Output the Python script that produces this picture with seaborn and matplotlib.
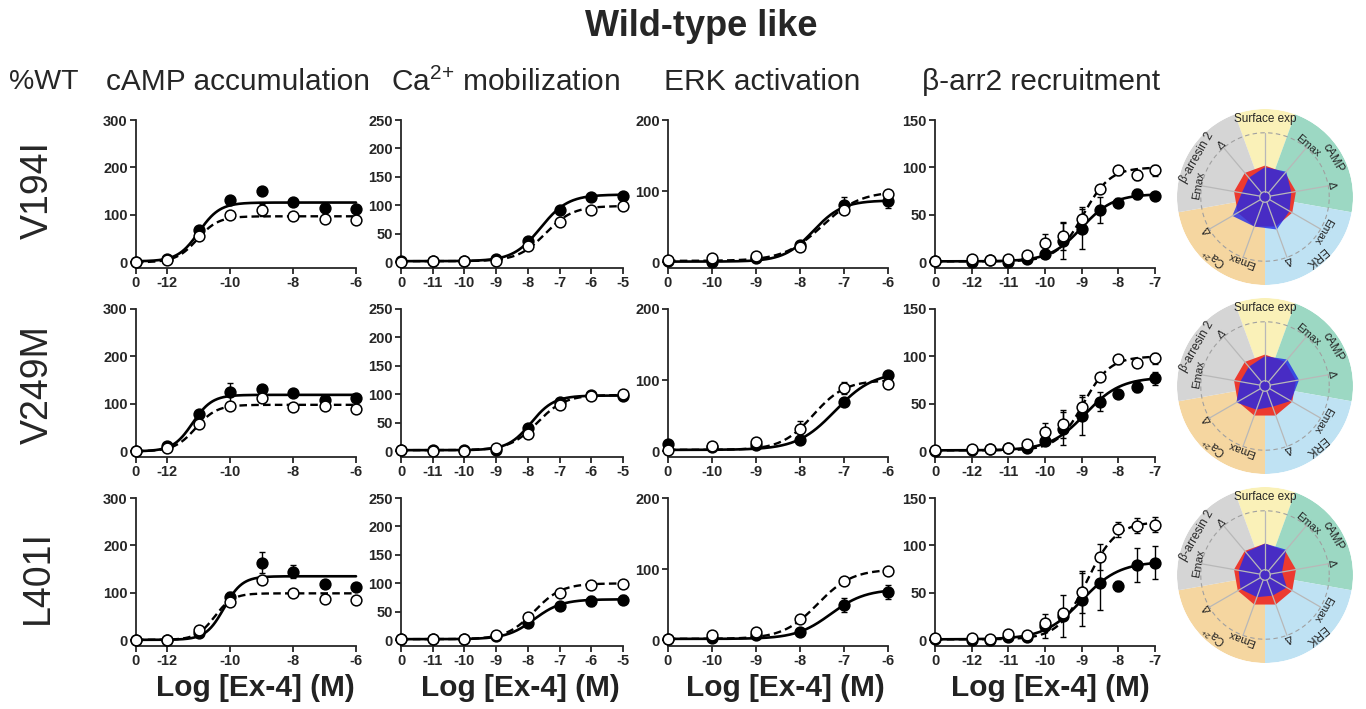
import numpy as np
import pandas as pd
import matplotlib
matplotlib.use("Agg")
import matplotlib.pyplot as plt
import seaborn as sns

# ---------------------------------------------------------------- data
mutants = ["V194I", "V249M", "L401I"]
assay_titles = ["cAMP accumulation", "Ca$^{2{+}}$ mobilization", "ERK activation", "β-arr2 recruitment"]
xlabel_text = "Log [Ex-4] (M)"
title_text = "Wild-type like"

# log concentration of Ex-4 (0 = vehicle)
camp_logc = [0, -12, -11, -10, -9, -8, -7, -6]
ca_logc = [0, -11, -10, -9, -8, -7, -6, -5]
erk_logc = [0, -10, -9, -8, -7, -6]
barr_logc = [0, -12, -11.5, -11, -10.5, -10, -9.5, -9, -8.5, -8, -7.5, -7]

camp_ticks = [0, -12, -10, -8, -6]
ca_ticks = [0, -11, -10, -9, -8, -7, -6, -5]
erk_ticks = [0, -10, -9, -8, -7, -6]
barr_ticks = [0, -12, -11, -10, -9, -8, -7]

camp_yticks = [0, 100, 200, 300]
ca_yticks = [0, 50, 100, 150, 200, 250]
erk_yticks = [0, 100, 200]
barr_yticks = [0, 50, 100, 150]

# cAMP  (mutant = filled, wild type = open)
camp_v194i_mut = [0, 8, 68, 131, 150, 128, 115, 113]
camp_v194i_mut_err = [0, 0, 0, 0, 0, 0, 0, 0]
camp_v194i_wt = [0, 5, 56, 100, 110, 97, 92, 90]
camp_v194i_wt_err = [0, 0, 0, 0, 12, 0, 0, 0]
camp_v249m_mut = [0, 12, 79, 125, 132, 122, 108, 113]
camp_v249m_mut_err = [0, 0, 0, 20, 8, 0, 5, 0]
camp_v249m_wt = [0, 6, 58, 96, 113, 93, 95, 89]
camp_v249m_wt_err = [0, 0, 0, 0, 10, 0, 0, 0]
camp_l401i_mut = [1, 1, 15, 91, 164, 145, 119, 112]
camp_l401i_mut_err = [0, 0, 0, 10, 22, 14, 8, 8]
camp_l401i_wt = [1, 1, 22, 80, 128, 100, 88, 84]
camp_l401i_wt_err = [0, 0, 0, 0, 0, 0, 0, 0]

# Ca2+
ca_v194i_mut = [2, 3, 3, 6, 37, 92, 115, 117]
ca_v194i_mut_err = [0, 0, 0, 0, 0, 0, 0, 0]
ca_v194i_wt = [1, 2, 2, 3, 29, 71, 92, 99]
ca_v194i_wt_err = [0, 0, 0, 0, 0, 0, 0, 0]
ca_v249m_mut = [2, 2, 3, 3, 41, 87, 99, 98]
ca_v249m_mut_err = [0, 0, 0, 0, 0, 0, 0, 0]
ca_v249m_wt = [2, 1, 1, 6, 31, 81, 98, 100]
ca_v249m_wt_err = [0, 0, 0, 0, 0, 0, 0, 0]
ca_l401i_mut = [2, 3, 3, 8, 31, 60, 69, 71]
ca_l401i_mut_err = [0, 0, 0, 0, 0, 6, 8, 8]
ca_l401i_wt = [2, 2, 2, 10, 41, 83, 98, 99]
ca_l401i_wt_err = [0, 0, 0, 0, 0, 0, 0, 0]

# ERK
erk_v194i_mut = [2, 0, 6, 25, 80, 86]
erk_v194i_mut_err = [0, 0, 0, 0, 12, 10]
erk_v194i_wt = [3, 6, 9, 22, 74, 96]
erk_v194i_wt_err = [0, 0, 0, 0, 0, 6]
erk_v249m_mut = [10, 6, 9, 16, 70, 107]
erk_v249m_mut_err = [0, 0, 0, 0, 0, 5]
erk_v249m_wt = [2, 7, 13, 32, 89, 95]
erk_v249m_wt_err = [0, 0, 0, 10, 8, 0]
erk_l401i_mut = [2, 3, 7, 12, 50, 68]
erk_l401i_mut_err = [0, 0, 0, 0, 10, 10]
erk_l401i_wt = [2, 8, 12, 30, 83, 98]
erk_l401i_wt_err = [0, 0, 0, 0, 0, 0]

# beta-arrestin 2
barr_v194i_mut = [1, 0, 2, 0, 3, 9, 22, 35, 55, 63, 72, 70]
barr_v194i_mut_err = [0, 0, 0, 0, 0, 0, 19, 21, 14, 5, 5, 0]
barr_v194i_wt = [1, 3, 2, 4, 8, 20, 28, 46, 77, 97, 92, 97]
barr_v194i_wt_err = [0, 0, 0, 0, 0, 10, 15, 12, 0, 5, 5, 6]
barr_v249m_mut = [0, 1, 2, 3, 4, 11, 24, 37, 52, 60, 68, 77]
barr_v249m_mut_err = [0, 0, 0, 0, 0, 0, 17, 20, 10, 3, 6, 7]
barr_v249m_wt = [1, 2, 2, 3, 8, 20, 29, 47, 78, 97, 93, 98]
barr_v249m_wt_err = [0, 0, 0, 0, 0, 10, 15, 12, 0, 5, 4, 6]
barr_l401i_mut = [1, 0, 0, 3, 3, 15, 26, 43, 60, 57, 79, 82]
barr_l401i_mut_err = [0, 0, 0, 0, 0, 13, 22, 28, 28, 5, 18, 17]
barr_l401i_wt = [2, 2, 1, 7, 6, 18, 29, 51, 88, 117, 121, 122]
barr_l401i_wt_err = [0, 0, 0, 0, 0, 0, 0, 22, 14, 8, 8, 8]

# fitted curve parameters: bottom, top, logEC50, Hill slope
camp_v194i_fit = [(2, 126, -11.0, 1.3), (0, 97, -11.05, 1.3)]
camp_v249m_fit = [(0, 119, -11.2, 1.4), (0, 98, -11.1, 1.3)]
camp_l401i_fit = [(1, 135, -10.2, 1.5), (1, 99, -10.5, 1.5)]
ca_v194i_fit = [(2, 119, -7.6, 1.0), (2, 99, -7.45, 1.0)]
ca_v249m_fit = [(2, 98, -7.9, 1.2), (2, 99, -7.7, 1.0)]
ca_l401i_fit = [(2, 72, -7.8, 1.0), (2, 100, -7.8, 1.0)]
erk_v194i_fit = [(1, 87, -7.7, 1.3), (2, 100, -7.5, 1.0)]
erk_v249m_fit = [(2, 112, -7.2, 1.0), (2, 100, -7.7, 1.2)]
erk_l401i_fit = [(2, 72, -7.3, 1.1), (2, 100, -7.6, 1.1)]
barr_v194i_fit = [(1, 72, -9.0, 1.0), (1, 100, -8.95, 1.2)]
barr_v249m_fit = [(1, 78, -8.9, 0.9), (1, 100, -8.95, 1.2)]
barr_l401i_fit = [(1, 83, -9.0, 0.85), (1, 125, -8.85, 1.1)]

# radar (% of WT)
radar_axes = ["Surface exp", "cAMP Emax", "cAMP Δ", "ERK Emax", "ERK Δ",
              "Ca Emax", "Ca Δ", "β-arr Emax", "β-arr Δ"]
radar_wt = [100, 100, 100, 100, 100, 100, 100, 100, 100]
radar_v194i = [95, 105, 85, 90, 110, 100, 120, 75, 80]
radar_v249m = [95, 110, 110, 95, 70, 80, 105, 80, 80]
radar_l401i = [100, 105, 55, 80, 70, 75, 90, 85, 95]
sector_names = ["Surface exp", "cAMP", "ERK", "Ca$^{2{+}}$", "β-arresin 2"]

# ---------------------------------------------------------------- style
sns.set_theme(style="ticks")
plt.rcParams["font.family"] = ["Liberation Sans", "DejaVu Sans"]
plt.rcParams["mathtext.default"] = "regular"
plt.rcParams["axes.linewidth"] = 1.3

W, H = 1366, 709
fig = plt.figure(figsize=(W / 100, H / 100), dpi=100)


def fax(l, t, w, h):
    return [l / W, 1 - (t + h) / H, w / W, h / H]


def hill(x, bottom, top, logec50, slope):
    return bottom + (top - bottom) / (1 + 10 ** ((logec50 - x) * slope))


assay_data = {
    "camp": (camp_logc, camp_ticks, camp_yticks,
             [(camp_v194i_mut, camp_v194i_mut_err, camp_v194i_wt, camp_v194i_wt_err, camp_v194i_fit),
              (camp_v249m_mut, camp_v249m_mut_err, camp_v249m_wt, camp_v249m_wt_err, camp_v249m_fit),
              (camp_l401i_mut, camp_l401i_mut_err, camp_l401i_wt, camp_l401i_wt_err, camp_l401i_fit)]),
    "ca": (ca_logc, ca_ticks, ca_yticks,
           [(ca_v194i_mut, ca_v194i_mut_err, ca_v194i_wt, ca_v194i_wt_err, ca_v194i_fit),
            (ca_v249m_mut, ca_v249m_mut_err, ca_v249m_wt, ca_v249m_wt_err, ca_v249m_fit),
            (ca_l401i_mut, ca_l401i_mut_err, ca_l401i_wt, ca_l401i_wt_err, ca_l401i_fit)]),
    "erk": (erk_logc, erk_ticks, erk_yticks,
            [(erk_v194i_mut, erk_v194i_mut_err, erk_v194i_wt, erk_v194i_wt_err, erk_v194i_fit),
             (erk_v249m_mut, erk_v249m_mut_err, erk_v249m_wt, erk_v249m_wt_err, erk_v249m_fit),
             (erk_l401i_mut, erk_l401i_mut_err, erk_l401i_wt, erk_l401i_wt_err, erk_l401i_fit)]),
    "barr": (barr_logc, barr_ticks, barr_yticks,
             [(barr_v194i_mut, barr_v194i_mut_err, barr_v194i_wt, barr_v194i_wt_err, barr_v194i_fit),
              (barr_v249m_mut, barr_v249m_mut_err, barr_v249m_wt, barr_v249m_wt_err, barr_v249m_fit),
              (barr_l401i_mut, barr_l401i_mut_err, barr_l401i_wt, barr_l401i_wt_err, barr_l401i_fit)]),
}

col_left = [136, 401, 668, 935]
col_w = [220, 222, 220, 220]
row_top = [120, 309, 498]
ax_h = 148

for ci, key in enumerate(["camp", "ca", "erk", "barr"]):
    logc, ticks, yticks, rows = assay_data[key]
    vehicle_pos = min(t for t in ticks if t != 0) - 1
    xpos = np.array([vehicle_pos if c == 0 else c for c in logc], dtype=float)
    tick_pos = [vehicle_pos if t == 0 else t for t in ticks]
    tick_lab = [str(t) for t in ticks]
    ymax = yticks[-1]
    for ri, (mut, mut_err, wt, wt_err, fits) in enumerate(rows):
        ax = fig.add_axes(fax(col_left[ci], row_top[ri], col_w[ci], ax_h))
        xc = np.linspace(xpos.min(), xpos.max(), 300)
        df = pd.DataFrame({
            "x": np.concatenate([xc, xc]),
            "y": np.concatenate([hill(xc, *fits[0]), hill(xc, *fits[1])]),
            "series": ["mut"] * len(xc) + ["wt"] * len(xc),
        })
        sns.lineplot(data=df[df.series == "wt"], x="x", y="y", ax=ax, color="black",
                     lw=1.7, linestyle=(0, (3.2, 1.8)), zorder=2, clip_on=False)
        sns.lineplot(data=df[df.series == "mut"], x="x", y="y", ax=ax, color="black",
                     lw=1.9, zorder=2, clip_on=False)
        for vals, errs, filled in [(wt, wt_err, False), (mut, mut_err, True)]:
            vals = np.array(vals, float)
            errs = np.array(errs, float)
            m = errs > 0
            if m.any():
                ax.errorbar(xpos[m], vals[m], yerr=errs[m], fmt="none", ecolor="black",
                            elinewidth=1.0, capsize=2, capthick=1.0, zorder=3, clip_on=False)
            sns.scatterplot(x=xpos, y=vals, ax=ax, s=60,
                            color="black" if filled else "white",
                            edgecolor="black", linewidth=1.1, zorder=4 if filled else 5,
                            clip_on=False, legend=False)
        ax.set_xlim(xpos.min(), xpos.max())
        ax.set_ylim(-0.04 * ymax, ymax)
        ax.set_xticks(tick_pos)
        ax.set_xticklabels(tick_lab)
        ax.set_yticks(yticks)
        ax.set_yticklabels([str(v) for v in yticks])
        ax.set_xlabel("")
        ax.set_ylabel("")
        sns.despine(ax=ax)
        ax.tick_params(direction="out", length=4, width=1.3, pad=2, labelsize=10.5)
        for lab in ax.get_xticklabels() + ax.get_yticklabels():
            lab.set_fontweight("bold")
        ax.patch.set_alpha(0)

# ---------------------------------------------------------------- radar charts
spoke_angles = [90, 50, 10, -30, -70, -110, -150, 170, 130]
spoke_labels = ["", "Emax", "Δ", "Emax", "Δ", "Emax", "Δ", "Emax", "Δ"]
sector_centers = [90, 30, -50, -130, 150]
sector_widths = [40, 80, 80, 80, 80]
sector_colors = ["#faf1b8", "#9cd8c3", "#bfe2f3", "#f5d6a0", "#d5d5d5"]
label_angles = [90, 30, -50, -130, 150]
R = 280

for ri, vals in enumerate([radar_v194i, radar_v249m, radar_l401i]):
    cy = 197 + 189 * ri
    ax = fig.add_axes(fax(1265 - 88, cy - 88, 176, 176), projection="polar")
    ax.set_axis_off()
    ax.set_ylim(0, R)
    for c, w, col in zip(sector_centers, sector_widths, sector_colors):
        ax.bar(np.deg2rad(c), R, width=np.deg2rad(w), bottom=0, color=col,
               edgecolor="none", zorder=1)
    th = np.linspace(0, 2 * np.pi, 300)
    ax.plot(th, np.full_like(th, 0.73 * R), ls=(0, (4, 3)), color="#a0a0a0", lw=0.8, zorder=2)
    t = np.deg2rad(spoke_angles + [spoke_angles[0]])
    ax.fill(t, radar_wt + [radar_wt[0]], color="#ec3a2f", lw=0, zorder=3)
    ax.fill(t, vals + [vals[0]], color=(0.12, 0.16, 0.92), alpha=0.8, lw=0, zorder=4)
    for a in spoke_angles:
        ax.plot([np.deg2rad(a)] * 2, [0.06 * R, 0.73 * R], color="#b8b8b8", lw=0.9, zorder=5)
    ax.plot(th, np.full_like(th, 0.06 * R), color="#b8b8b8", lw=0.9, zorder=5)
    for a, lab in zip(spoke_angles, spoke_labels):
        if lab:
            ax.text(np.deg2rad(a), 0.76 * R, lab, rotation=a - 90, rotation_mode="anchor",
                    ha="center", va="center", fontsize=8, zorder=6)
    for a, lab in zip(label_angles, sector_names):
        ax.text(np.deg2rad(a), 0.89 * R, lab, rotation=a - 90, rotation_mode="anchor",
                ha="center", va="center", fontsize=8.5, zorder=6)

# ---------------------------------------------------------------- texts
fig.text(701 / W, 1 - 27 / H, title_text, fontsize=26, fontweight="bold",
         ha="center", va="center")
fig.text(44 / W, 1 - 82 / H, "%WT", fontsize=20.5, ha="center", va="center")
for cx, s in zip([238, 506, 762, 1041], assay_titles):
    fig.text(cx / W, 1 - 82 / H, s, fontsize=21.5, ha="center", va="center")
for cy, s in zip([190, 385, 577], mutants):
    fig.text(38 / W, 1 - cy / H, s, fontsize=27, rotation=90, ha="center", va="center")
for cx in [255, 520, 785, 1050]:
    fig.text(cx / W, 1 - 688 / H, xlabel_text, fontsize=21.5, fontweight="bold",
             ha="center", va="center", color="#222222")

fig.savefig("out.png", dpi=100, facecolor="white")
